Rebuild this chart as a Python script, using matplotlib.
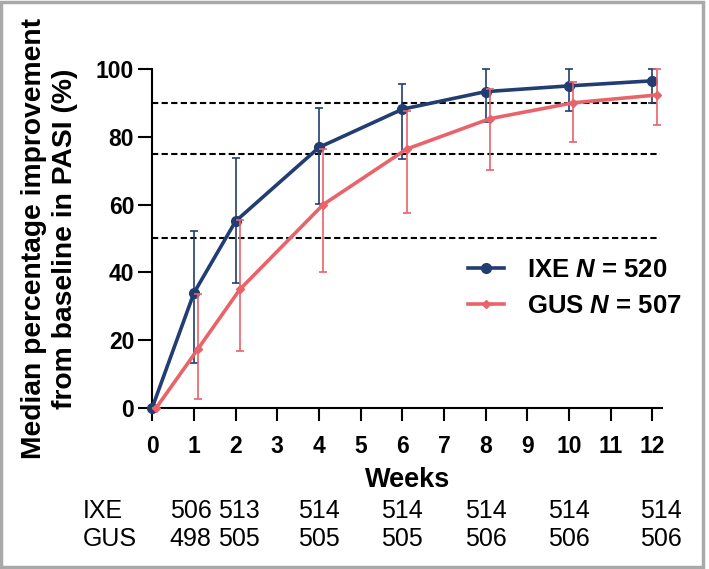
import numpy as np
import matplotlib
matplotlib.use("Agg")
import matplotlib.pyplot as plt
from matplotlib.patches import Rectangle
from matplotlib.transforms import blended_transform_factory

plt.rcParams['font.family'] = ['Liberation Sans', 'DejaVu Sans']
plt.rcParams['mathtext.fontset'] = 'custom'
plt.rcParams['mathtext.it'] = 'Liberation Sans:bold:italic'
plt.rcParams['mathtext.rm'] = 'Liberation Sans:bold'

# data
weeks = [0, 1, 2, 4, 6, 8, 10, 12]
ixe_med = [0, 33.9, 55.1, 76.9, 88.2, 93.4, 95.1, 96.6]
ixe_lo = [0, 13.3, 36.9, 60.1, 73.4, 84.3, 87.7, 90.1]
ixe_hi = [0, 52.2, 73.8, 88.7, 95.7, 100, 100, 100]
gus_med = [0, 17.4, 34.9, 60.0, 76.4, 85.4, 90.1, 92.4]
gus_lo = [0, 2.6, 16.6, 40.2, 57.5, 70.3, 78.5, 83.6]
gus_hi = [0, 33.7, 55.4, 76.5, 87.6, 94.1, 96.3, 100]
ref_lines = [50, 75, 90]

table_weeks = [0.92, 2.09, 4, 6, 8, 10, 12.2]
ixe_n = [506, 513, 514, 514, 514, 514, 514]
gus_n = [498, 505, 505, 505, 506, 506, 506]

navy = '#213D72'
salmon = '#E8646A'
shift = 0.1

fig = plt.figure(figsize=(7.09, 5.69), dpi=100)
ax = fig.add_axes([0.2148, 0.2838, 0.7189, 0.5944])

for y in ref_lines:
    ax.plot([0, 12.19], [y, y], color='black', lw=1.5, ls=(0, (3, 1.6)), zorder=1)

w = np.array(weeks, dtype=float)
ixe_med = np.array(ixe_med)
gus_med = np.array(gus_med)
ixe_err = [ixe_med - np.array(ixe_lo), np.array(ixe_hi) - ixe_med]
gus_err = [gus_med - np.array(gus_lo), np.array(gus_hi) - gus_med]

ax.errorbar(w, ixe_med, yerr=ixe_err, fmt='none', ecolor=navy,
            elinewidth=1.2, capsize=3, capthick=1.2, clip_on=False, zorder=3)
ax.errorbar(w + shift, gus_med, yerr=gus_err, fmt='none', ecolor=salmon,
            elinewidth=1.2, capsize=3, capthick=1.2, clip_on=False, zorder=4)
ax.plot(w, ixe_med, color=navy, lw=2.6, marker='o', ms=7, clip_on=False, zorder=3,
        label=r'IXE $\mathit{N}$ = 520')
ax.plot(w + shift, gus_med, color=salmon, lw=2.6, marker='D', ms=4.5, clip_on=False, zorder=4,
        label=r'GUS $\mathit{N}$ = 507')

ax.set_xlim(0, 12.23)
ax.set_ylim(0, 100)
ax.set_xticks(range(13))
ax.set_yticks([0, 20, 40, 60, 80, 100])
for s in ['top', 'right']:
    ax.spines[s].set_visible(False)
for s in ['left', 'bottom']:
    ax.spines[s].set_linewidth(1.5)
ax.tick_params(axis='x', length=9.5, width=1.5, pad=10, labelsize=16.5)
ax.tick_params(axis='y', length=10, width=1.5, pad=3, labelsize=16.5)
for lab in ax.get_xticklabels() + ax.get_yticklabels():
    lab.set_fontweight('bold')

ax.set_xlabel('Weeks', fontsize=19.5, fontweight='bold', labelpad=7)
ax.set_ylabel('Median percentage improvement\nfrom baseline in PASI (%)',
              fontsize=20.3, fontweight='bold', linespacing=1.25, labelpad=13)

leg = ax.legend(loc='center left', bbox_to_anchor=(0.619, 0.353), frameon=False,
                borderpad=0, borderaxespad=0,
                fontsize=18.5, handlelength=1.4, handletextpad=0.9, labelspacing=0.45)
for t in leg.get_texts():
    t.set_fontweight('bold')

# number-at-risk table below the axis
tr = blended_transform_factory(ax.transData, fig.transFigure)
fig.text(0.117, 0.1015, 'IXE', fontsize=18, va='center', ha='left')
fig.text(0.117, 0.0535, 'GUS', fontsize=18, va='center', ha='left')
for x, a, b in zip(table_weeks, ixe_n, gus_n):
    ax.text(x, 0.1015, str(a), transform=tr, fontsize=18, va='center', ha='center', clip_on=False)
    ax.text(x, 0.0535, str(b), transform=tr, fontsize=18, va='center', ha='center', clip_on=False)

fig.patches.append(Rectangle((0.0021, 0.0035), 0.9894, 0.9925, transform=fig.transFigure,
                             fill=False, edgecolor='#A9A9A9', lw=2.5))

fig.savefig('out.png', dpi=100)
